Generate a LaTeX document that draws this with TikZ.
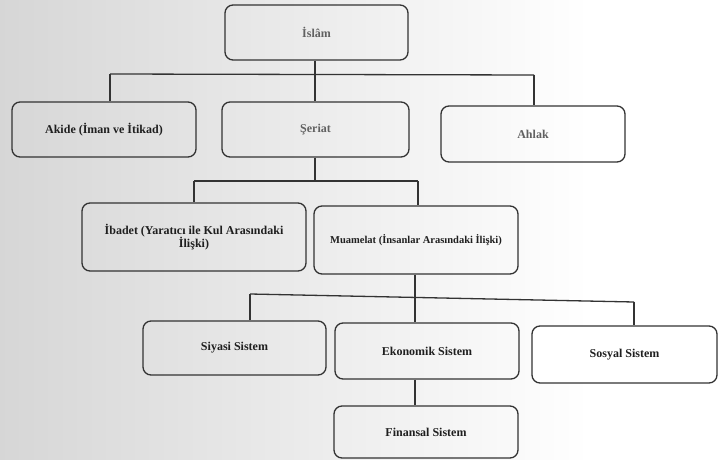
\documentclass[tikz,border=0pt]{standalone}
\usepackage{fontspec}
\setmainfont{Liberation Serif}
\begin{document}
\begin{tikzpicture}[x=1pt,y=-1pt,
  box/.style={draw=black!80,line width=1.3pt,rounded corners=8pt,inner sep=0pt,align=center,
    font=\fontsize{12}{13.5}\selectfont\bfseries,text=black!88},
  faded/.style={text=black!62},
  conn/.style={draw=black!80,line width=1.3pt}]
\useasboundingbox (0,0) rectangle (725,460);
\shade[left color=black!16,right color=white] (0,0) rectangle (590,460);
\fill[white] (590,0) rectangle (725,460);
% nodes
\node[box,faded,minimum width=183pt,minimum height=55pt] (islam) at (316.5,32.5) {İslâm};
\node[box,minimum width=184pt,minimum height=55pt] (akide) at (104,129.5) {Akide (İman ve İtikad)};
\node[box,faded,minimum width=187pt,minimum height=55pt] (seriat) at (315.5,129.5) {Şeriat};
\node[box,faded,minimum width=184pt,minimum height=56pt] (ahlak) at (533,134) {Ahlak};
\node[box,minimum width=224pt,minimum height=68pt] (ibadet) at (194,237) {İbadet (Yaratıcı ile Kul Arasındaki\\İlişki)};
\node[box,minimum width=204pt,minimum height=68pt,font=\fontsize{10.5}{12}\selectfont\bfseries] (muamelat) at (416,240) {Muamelat (İnsanlar Arasındaki İlişki)};
\node[box,minimum width=183pt,minimum height=54pt] (siyasi) at (234.5,348) {Siyasi Sistem};
\node[box,minimum width=184pt,minimum height=56pt] (ekonomik) at (427,351) {Ekonomik Sistem};
\node[box,fill=white,minimum width=185pt,minimum height=57pt] (sosyal) at (624.5,354.5) {Sosyal Sistem};
\node[box,minimum width=184pt,minimum height=52pt] (finansal) at (426,432) {Finansal Sistem};
% bus coordinates
\coordinate (b1l) at (110,74);
\coordinate (b1r) at (534,75);
\coordinate (b1m) at (315,74.5);
\coordinate (b2l) at (194,181);
\coordinate (b2r) at (418,181);
\coordinate (b2m) at (315,181);
\coordinate (b3l) at (250,294);
\coordinate (b3r) at (634,302);
\coordinate (b3m) at (415,298);
\coordinate (b4) at (415,379);
% connectors
\draw[conn] (b1l) -- (b1r);
\draw[conn] (islam.south -| b1m) -- (b1m);
\draw[conn] (b1l) -- (akide.north -| b1l);
\draw[conn] (b1m) -- (seriat.north -| b1m);
\draw[conn] (b1r) -- (ahlak.north -| b1r);
\draw[conn] (b2l) -- (b2r);
\draw[conn] (seriat.south -| b2m) -- (b2m);
\draw[conn] (b2l) -- (ibadet.north -| b2l);
\draw[conn] (b2r) -- (muamelat.north -| b2r);
\draw[conn] (b3l) -- (b3r);
\draw[conn] (muamelat.south -| b3m) -- (b3m);
\draw[conn] (b3l) -- (siyasi.north -| b3l);
\draw[conn] (b3m) -- (ekonomik.north -| b3m);
\draw[conn] (b3r) -- (sosyal.north -| b3r);
\draw[conn] (ekonomik.south -| b4) -- (finansal.north -| b4);
\end{tikzpicture}
\end{document}
